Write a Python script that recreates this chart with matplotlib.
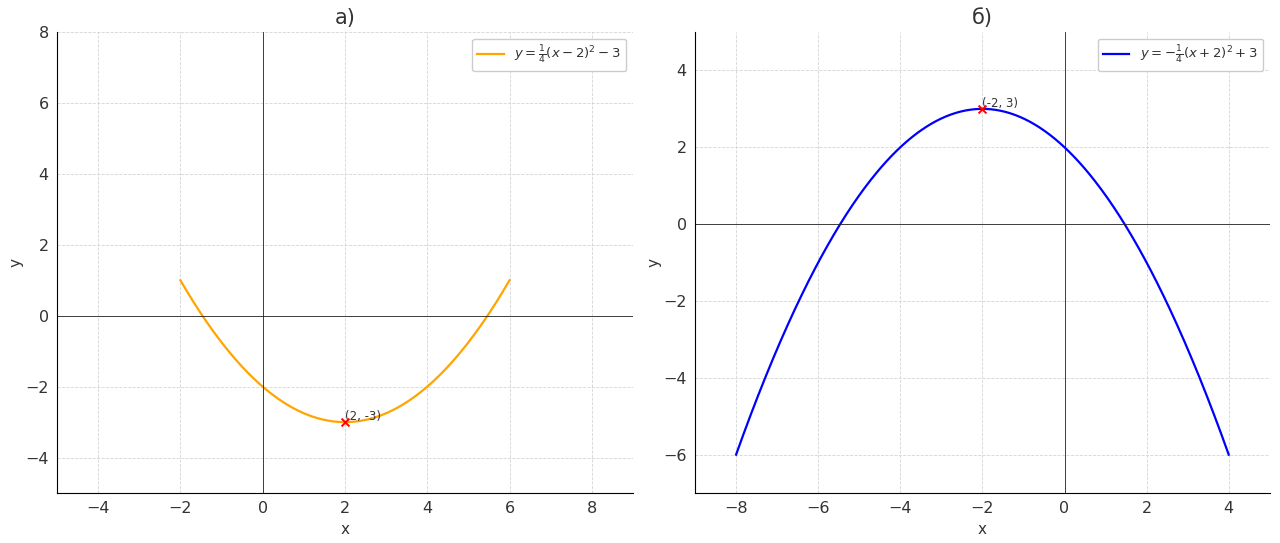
"""Two parabolas: y = 1/4(x-2)^2 - 3 and y = -1/4(x+2)^2 + 3, vertices marked."""

import matplotlib
matplotlib.use("Agg")
import matplotlib.pyplot as plt
import numpy as np

# panel a)
A_COEF = 0.25
A_VERTEX = (2, -3)
A_XRANGE = (-2, 6)
A_XLIM = (-5, 9)
A_YLIM = (-5, 8)
A_XTICKS = [-4, -2, 0, 2, 4, 6, 8]
A_YTICKS = [-4, -2, 0, 2, 4, 6, 8]

# panel б)
B_COEF = -0.25
B_VERTEX = (-2, 3)
B_XRANGE = (-8, 4)
B_XLIM = (-9, 5)
B_YLIM = (-7, 5)
B_XTICKS = [-8, -6, -4, -2, 0, 2, 4]
B_YTICKS = [-6, -4, -2, 0, 2, 4]

TEXT = "#333333"


def draw_panel(ax, coef, vertex, xrange, color, label, title, xlim, ylim, xticks, yticks):
    h, k = vertex
    x = np.linspace(xrange[0], xrange[1], 400)
    y = coef * (x - h) ** 2 + k
    ax.plot(x, y, color=color, lw=1.6, label=label)
    ax.scatter([h], [k], color="red", marker="x", s=32, lw=1.4, zorder=5)
    ax.annotate(f"({h}, {k})", (h, k), xytext=(0, 1.5), textcoords="offset points",
                fontsize=8.5, color=TEXT)
    ax.axhline(0, color="#222222", lw=0.6)
    ax.axvline(0, color="#222222", lw=0.6)
    ax.set_xlim(*xlim)
    ax.set_ylim(*ylim)
    ax.set_xticks(xticks)
    ax.set_yticks(yticks)
    ax.set_title(title, fontsize=15, color=TEXT)
    ax.set_xlabel("x", fontsize=11, color=TEXT)
    ax.set_ylabel("y", fontsize=11, color=TEXT, labelpad=1)
    ax.grid(True, ls="--", lw=0.6, color="#d5d5d5")
    ax.set_axisbelow(True)
    for side in ("top", "right"):
        ax.spines[side].set_visible(False)
    ax.tick_params(length=0, labelsize=11.5, labelcolor=TEXT, pad=6)
    ax.legend(loc="upper right", fontsize=9.5, handlelength=2.0, framealpha=1,
              edgecolor="#cccccc", labelcolor=TEXT)


fig = plt.figure(figsize=(12.8, 5.43), dpi=100)
ax1 = fig.add_axes([0.0445, 0.092, 0.45, 0.849])
ax2 = fig.add_axes([0.543, 0.092, 0.449, 0.849])

draw_panel(ax1, A_COEF, A_VERTEX, A_XRANGE, "orange",
           r"$y = \frac{1}{4}(x - 2)^2 - 3$", "а)", A_XLIM, A_YLIM, A_XTICKS, A_YTICKS)
draw_panel(ax2, B_COEF, B_VERTEX, B_XRANGE, "blue",
           r"$y = -\frac{1}{4}(x + 2)^2 + 3$", "б)", B_XLIM, B_YLIM, B_XTICKS, B_YTICKS)

fig.savefig("out.png", dpi=100)
